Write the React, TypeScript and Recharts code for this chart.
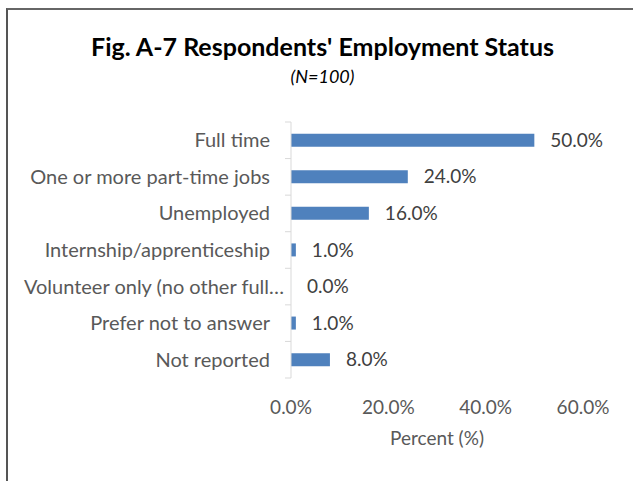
import { BarChart, Bar, XAxis, YAxis, LabelList } from "recharts";

const categories = [
  "Full time",
  "One or more part-time jobs",
  "Unemployed",
  "Internship/apprenticeship",
  "Volunteer only (no other full…",
  "Prefer not to answer",
  "Not reported",
];
const percents = [50, 24, 16, 1, 0, 1, 8];
const xTicks = [0, 20, 40, 60];

const data = categories.map((status, i) => ({ status, percent: percents[i] }));

const FONT = "Lato, 'DejaVu Sans', sans-serif";
const fmt = (v: number) => `${Number(v).toFixed(1)}%`;

// category labels plus the little boundary ticks Excel draws between categories
function StatusTick(props: any) {
  const { x, y, payload, index } = props;
  const half = payload.offset ?? 18.3;
  // Excel lets the truncated label run a bit closer to the axis
  const clipped = String(payload.value).endsWith("…");
  return (
    <g>
      <line x1={x} x2={x + 6} y1={y - half} y2={y - half} stroke="#d9d9d9" />
      {index === categories.length - 1 && (
        <line x1={x} x2={x + 6} y1={y + half} y2={y + half} stroke="#d9d9d9" />
      )}
      <text x={clipped ? x - 1 : x - 15} y={y} dy="0.35em" textAnchor="end" fill="#595959" fontSize={20} fontFamily={FONT}>
        {payload.value}
      </text>
    </g>
  );
}

function ValueLabel(props: any) {
  const { x, y, width, height, value } = props;
  return (
    <text x={Number(x) + Number(width) + 16} y={Number(y) + Number(height) / 2} dy="0.35em" fill="#404040" fontSize={19} fontFamily={FONT}>
      {fmt(value)}
    </text>
  );
}

export default function App() {
  return (
    <>
      <style>{`body { margin: 0; }`}</style>
      <div style={{ position: "relative", width: 633, height: 481, overflow: "hidden", background: "#fff", fontFamily: FONT }}>
        <div style={{ position: "absolute", left: 0, width: 645, top: 31, textAlign: "center", fontSize: 25, fontWeight: 700, color: "#000", lineHeight: "30px" }}>
          Fig. A-7 Respondents' Employment Status
        </div>
        <div style={{ position: "absolute", left: 0, width: 645, top: 64, textAlign: "center", fontSize: 18, fontStyle: "italic", color: "#000", lineHeight: "24px" }}>
          (N=100)
        </div>
        <div style={{ position: "absolute", left: 0, top: 0 }}>
          <BarChart width={633} height={481} data={data} layout="vertical" margin={{ top: 122, right: 50, bottom: 33, left: 0 }} barCategoryGap="32%">
            <XAxis
              type="number"
              domain={[0, 60]}
              ticks={xTicks}
              tickFormatter={fmt}
              axisLine={false}
              tickLine={false}
              tickMargin={17}
              height={70}
              tick={{ fill: "#595959", fontSize: 19, fontFamily: FONT }}
              label={{ value: "Percent (%)", position: "insideBottom", offset: 3, fill: "#595959", fontSize: 19, fontFamily: FONT }}
            />
            <YAxis
              type="category"
              dataKey="status"
              width={291}
              axisLine={{ stroke: "#d9d9d9" }}
              tickLine={false}
              tickMargin={0}
              interval={0}
              tick={<StatusTick />}
            />
            <Bar dataKey="percent" fill="#4f81bd" minPointSize={0.01} isAnimationActive={false}>
              <LabelList dataKey="percent" content={<ValueLabel />} />
            </Bar>
          </BarChart>
        </div>
        <div style={{ position: "absolute", left: 6, top: 8, width: 700, height: 600, borderLeft: "2px solid #555", borderTop: "2px solid #666", pointerEvents: "none" }} />
      </div>
    </>
  );
}
